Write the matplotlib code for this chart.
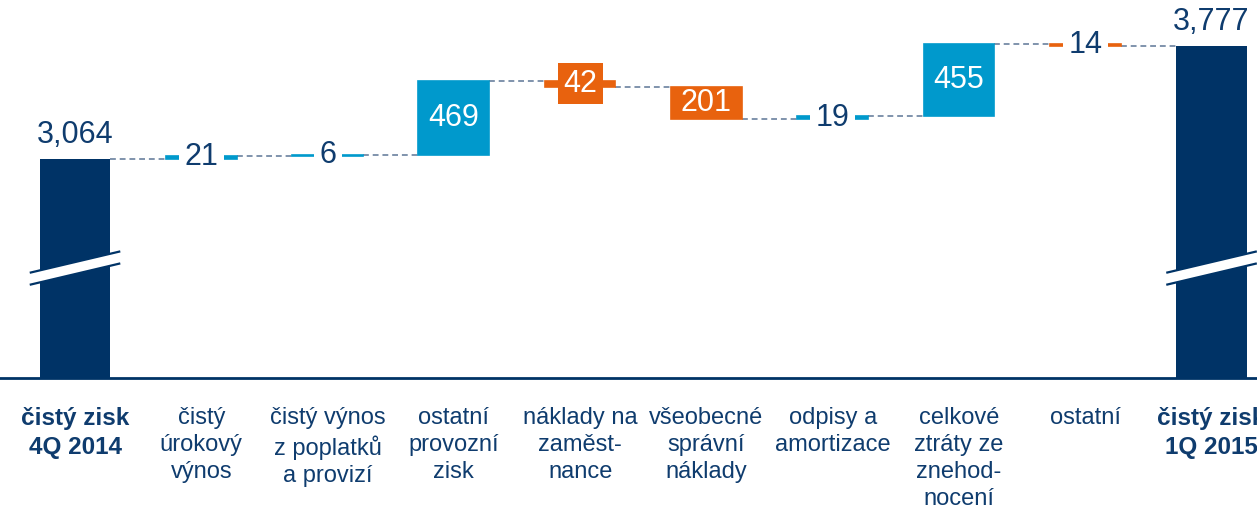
import matplotlib.pyplot as plt
from matplotlib.patches import Polygon

plt.rcParams['font.family'] = ['Liberation Sans', 'DejaVu Sans']

categories = ['čistý zisk\n4Q 2014', 'čistý\núrokový\nvýnos', 'čistý výnos\nz poplatků\na provizí',
              'ostatní\nprovozní\nzisk', 'náklady na\nzaměst-\nnance', 'všeobecné\nsprávní\nnáklady',
              'odpisy a\namortizace', 'celkové\nztráty ze\nznehod-\nnocení', 'ostatní',
              'čistý zisk\n1Q 2015']
start_value = 3064
deltas = [21, 6, 469, -42, -201, 19, 455, -14]
end_value = 3777

NAVY = '#003366'
TEXT = '#0f3c6e'
BLUE = '#0099cc'
ORANGE = '#e8620e'
DASH = '#7f93ac'

fig = plt.figure(figsize=(12.57, 5.14), dpi=100)
ax = fig.add_axes([0, 1 - 378 / 514, 1, 378 / 514])
ax.set_xlim(-0.594, 9.36)
ax.set_ylim(1680, 4070)

width = 0.56
n = len(categories)

# totals (clipped at the bottom of the axes, with a break mark)
break_level = 2375
for x, v in [(0, start_value), (n - 1, end_value)]:
    ax.bar(x, v, width=width, color=NAVY, zorder=2)
    ax.text(x, v + 60, f'{v:,}', ha='center', va='bottom', fontsize=22, color=TEXT)
    x0, x1 = x - 0.35, x + 0.35
    h, g = 66, 38
    band = Polygon([(x0, break_level - h + g), (x1, break_level + h + g),
                    (x1, break_level + h - g), (x0, break_level - h - g)],
                   closed=True, facecolor='white', edgecolor='none', zorder=3)
    ax.add_patch(band)
    for s in (g, -g):
        ax.plot([x0, x1], [break_level - h + s, break_level + h + s], color=NAVY, lw=1.6, zorder=4)

# waterfall steps
level = start_value
for i, d in enumerate(deltas):
    x = i + 1
    color = BLUE if d > 0 else ORANGE
    bottom = level if d > 0 else level + d
    ax.bar(x, abs(d), bottom=bottom, width=width, color=color, edgecolor=color,
           linewidth=1.2, zorder=2)
    # connector from previous bar
    ax.plot([x - 1 + width / 2, x - width / 2], [level, level], color=DASH, lw=1.4,
            dashes=(3, 2), zorder=1)
    mid = bottom + abs(d) / 2
    if abs(d) < 30:
        ax.text(x, mid, str(abs(d)), ha='center', va='center', fontsize=22, color=TEXT, zorder=5,
                bbox=dict(boxstyle='square,pad=0.18', facecolor='white', edgecolor='none'))
    elif abs(d) < 100:
        ax.text(x, mid, str(abs(d)), ha='center', va='center', fontsize=22, color='white', zorder=5,
                bbox=dict(boxstyle='square,pad=0.18', facecolor=color, edgecolor='none'))
    else:
        ax.text(x, mid, str(abs(d)), ha='center', va='center', fontsize=22, color='white', zorder=5)
    level += d

ax.plot([n - 2 + width / 2, n - 1 - width / 2], [level, level], color=DASH, lw=1.4,
        dashes=(3, 2), zorder=1)

for s in ['top', 'left', 'right']:
    ax.spines[s].set_visible(False)
ax.spines['bottom'].set_color(NAVY)
ax.spines['bottom'].set_linewidth(2)
ax.set_yticks([])
ax.set_xticks(range(n))
ax.set_xticklabels(categories, fontsize=17, color=TEXT, linespacing=1.3)
ax.tick_params(axis='x', length=0, pad=21)
for idx in (0, n - 1):
    lab = ax.get_xticklabels()[idx]
    lab.set_fontweight('bold')
    lab.set_fontsize(17.5)

fig.savefig('out.png', dpi=100)
